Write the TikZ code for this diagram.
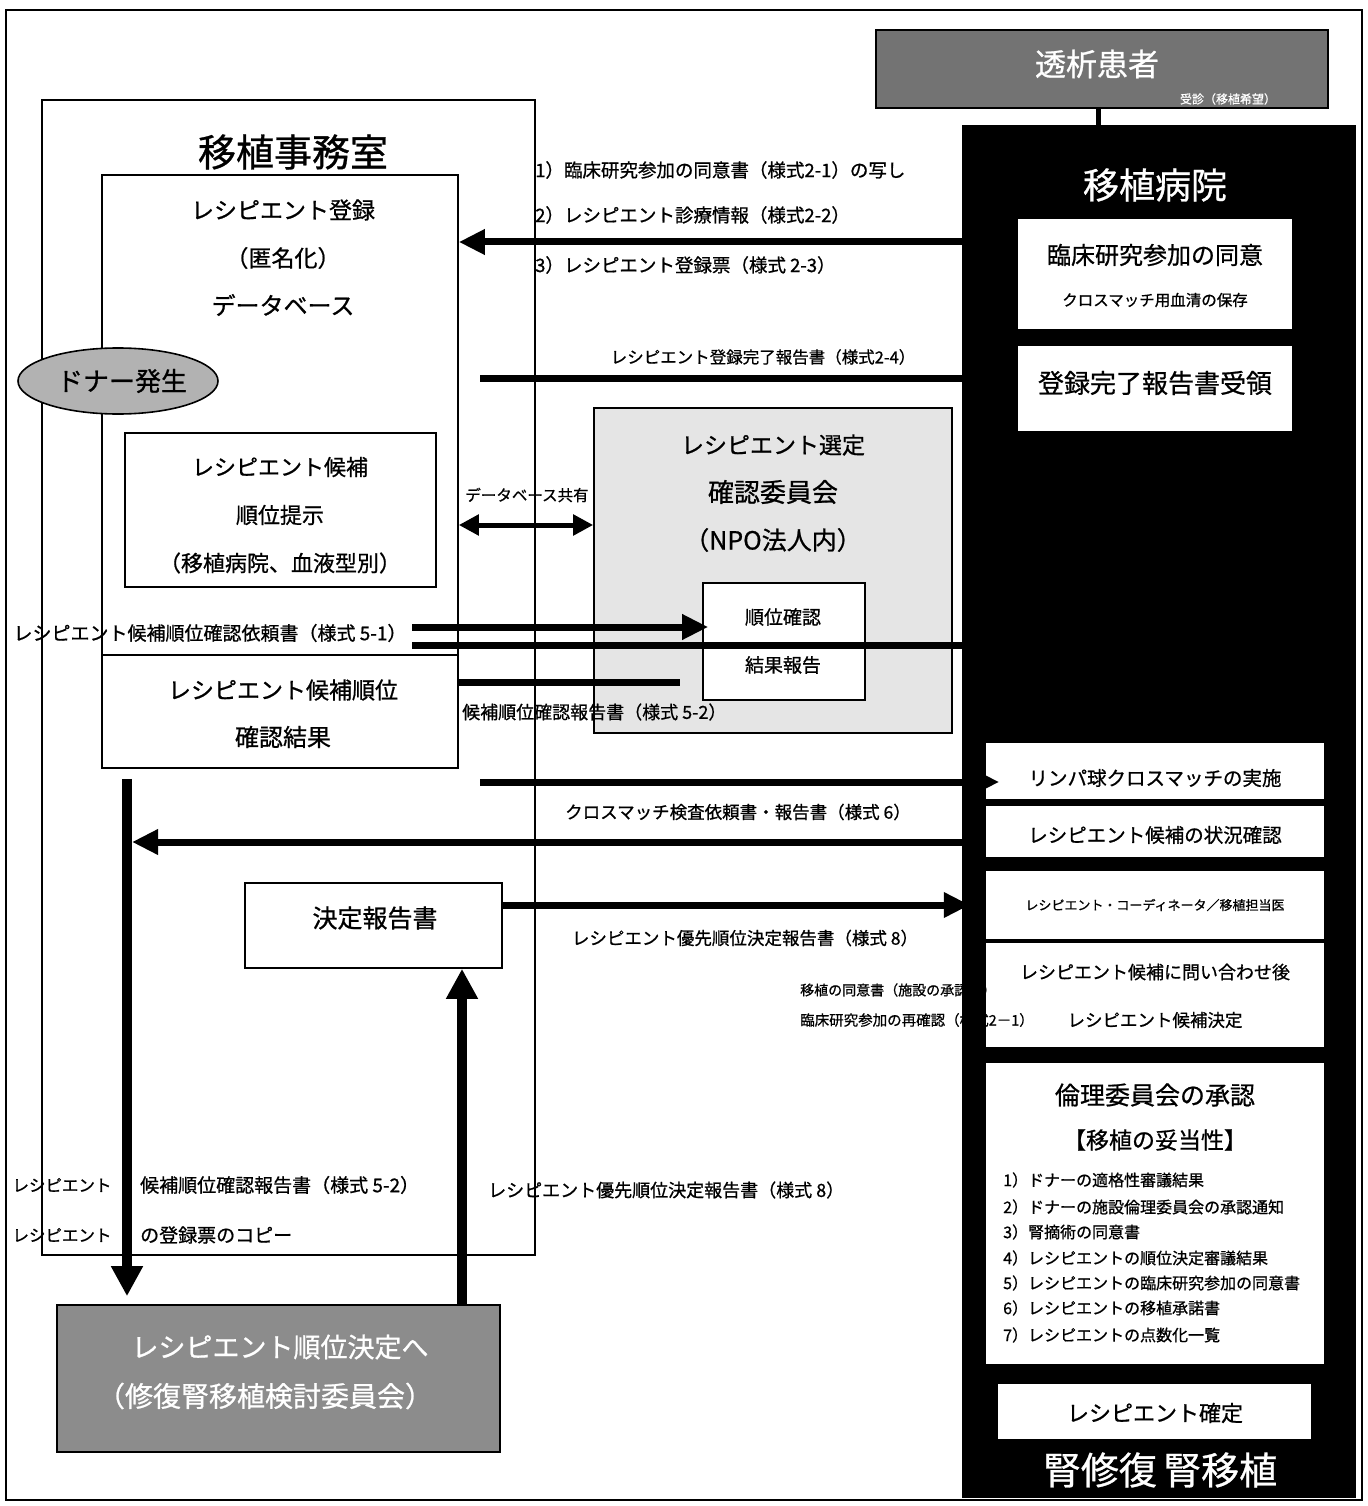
\documentclass[tikz,border=0pt]{standalone}
\usepackage{fontspec}
\setmainfont{Noto Sans CJK JP}[FakeBold=0.8]
\usetikzlibrary{arrows.meta,shapes.geometric}
\newcommand\fsz[1]{\fontsize{#1pt}{#1pt}\selectfont}
\tikzset{
  box/.style={draw, line width=1.6pt, inner sep=0pt},
  wbox/.style={box, fill=white},
  txt/.style={inner sep=0pt},
  bigarrow/.style={line width=7pt, -{Triangle[length=26pt,width=24pt]}},
  bigline/.style={line width=7pt},
  dblarrow/.style={line width=5pt, {Triangle[length=20pt,width=20pt]}-{Triangle[length=20pt,width=20pt]}},
  vertarrow/.style={line width=10pt, -{Triangle[length=30pt,width=30pt]}},
}
\begin{document}
\begin{tikzpicture}[x=1pt,y=-1pt]
\useasboundingbox (0,0) rectangle (1367,1506);
\fill[white] (0,0) rectangle (1367,1506);
\draw[line width=1.5pt] (6,10) rectangle (1362,1500);

% y levels
\coordinate (y242) at (0,242);
\coordinate (y378) at (0,378);
\coordinate (y525) at (0,525);
\coordinate (y627) at (0,627);
\coordinate (y645) at (0,645);
\coordinate (y655) at (0,655);
\coordinate (y682) at (0,682);
\coordinate (y782) at (0,782);
\coordinate (y842) at (0,842);
\coordinate (y905) at (0,905);
\coordinate (x127) at (127,0);
\coordinate (x462) at (462,0);

% ---------- 移植事務室 ----------
\node[box, line width=1.4pt, minimum width=493pt, minimum height=1155pt] (office) at (288.5,677.5) {};
\node[txt, font=\fsz{38}] (tOffice) at (293,152) {移植事務室};
\node[box, minimum width=356pt, minimum height=593pt] (reg) at (280,471.5) {};
\draw[line width=1.6pt] (reg.west |- y655) -- (reg.east |- y655);
\node[txt, font=\fsz{23}] (tReg1) at (283,210) {レシピエント登録};
\node[txt, font=\fsz{23}] (tReg2) at (283,258) {（匿名化）};
\node[txt, font=\fsz{24}] (tReg3) at (283,305) {データベース};
\node[txt, font=\fsz{23}] (tRes1) at (283,690) {レシピエント候補順位};
\node[txt, font=\fsz{24}] (tRes2) at (283,737) {確認結果};

\node[box, minimum width=311pt, minimum height=154pt] (cand) at (280.5,510) {};
\node[txt, font=\fsz{22}] (tCand1) at (280,467) {レシピエント候補};
\node[txt, font=\fsz{22}] (tCand2) at (280,515) {順位提示};
\node[txt, font=\fsz{22}] (tCand3) at (280,563) {（移植病院、血液型別）};

\node[draw, line width=1.6pt, ellipse, fill=black!30, minimum width=200pt, minimum height=66pt, inner sep=0pt] (donor) at (118,381) {};
\node[txt, font=\fsz{26}] (tDonor) at (122,381) {ドナー発生};

% ---------- 委員会 ----------
\node[box, fill=black!10, minimum width=358pt, minimum height=325pt] (comm) at (773,570.5) {};
\node[txt, font=\fsz{23}] (tComm1) at (773,445) {レシピエント選定};
\node[txt, font=\fsz{26}] (tComm2) at (773,492) {確認委員会};
\node[txt, font=\fsz{25}] (tComm3) at (773,540) {（NPO法人内）};
\node[wbox, minimum width=162pt, minimum height=117pt] (rank) at (784,641.5) {};
\node[txt, font=\fsz{19}] (tRank1) at (783,617) {順位確認};
\node[txt, font=\fsz{19}] (tRank2) at (783,665) {結果報告};

% ---------- 決定報告書 / 下の委員会 ----------
\node[box, minimum width=257pt, minimum height=85pt] (decision) at (373.5,925.5) {};
\node[txt, font=\fsz{25}] (tDecision) at (375,918) {決定報告書};
\node[box, fill=black!45, minimum width=443pt, minimum height=147pt] (bottom) at (278.5,1378.5) {};
\node[txt, font=\fsz{27}, text=white] (tBottom1) at (280,1347) {レシピエント順位決定へ};
\node[txt, font=\fsz{28}, text=white] (tBottom2) at (265,1396) {（修復腎移植検討委員会）};

% ---------- 移植病院 column ----------
\node[draw, fill=black, minimum width=393pt, minimum height=1372pt, inner sep=0pt] (col) at (1158.5,811) {};
\node[txt, font=\fsz{36}, text=white] (tCol) at (1155,185) {移植病院};
\node[txt, font=\fsz{38}, text=white] (tColB) at (1160,1470) {腎修復\,腎移植};

\node[box, fill=black!55, minimum width=452pt, minimum height=78pt] (patient) at (1102,69) {};
\node[txt, font=\fsz{31}, text=white] (tPatient) at (1097,64) {透析患者};
\node[txt, font=\fsz{12}, text=white] (tPatient2) at (1228,99) {受診（移植希望）};
\draw[line width=5pt] ([xshift=-4pt]patient.south) -- ([xshift=-4pt]patient.south |- col.north);

\node[wbox, minimum width=276pt, minimum height=112pt] (consent) at (1155,274) {};
\node[txt, font=\fsz{24}] (tConsent1) at (1155,255) {臨床研究参加の同意};
\node[txt, font=\fsz{15.5}] (tConsent2) at (1155,300) {クロスマッチ用血清の保存};
\node[wbox, minimum width=276pt, minimum height=87pt] (regdone) at (1155,388.5) {};
\node[txt, font=\fsz{26}] (tRegdone) at (1155,383) {登録完了報告書受領};
\node[wbox, minimum width=340pt, minimum height=58pt] (lymph) at (1155,771) {};
\node[txt, font=\fsz{19.5}] (tLymph) at (1155,778) {リンパ球クロスマッチの実施};
\node[wbox, minimum width=340pt, minimum height=53pt] (status) at (1155,831.5) {};
\node[txt, font=\fsz{19.5}] (tStatus) at (1155,835) {レシピエント候補の状況確認};
\node[wbox, minimum width=340pt, minimum height=70pt] (coord) at (1155,905) {};
\node[txt, font=\fsz{13}] (tCoord) at (1155,905) {レシピエント・コーディネータ／移植担当医};
\node[wbox, minimum width=340pt, minimum height=106pt] (inquiry) at (1155,995) {};
\node[txt, font=\fsz{18}] (tInq1) at (1155,972) {レシピエント候補に問い合わせ後};
\node[txt, font=\fsz{17.5}] (tInq2) at (1155,1020) {レシピエント候補決定};
\node[wbox, minimum width=340pt, minimum height=303pt] (ethics) at (1155,1213.5) {};
\node[txt, font=\fsz{25}] (tEth1) at (1155,1095) {倫理委員会の承認};
\node[txt, font=\fsz{23}] (tEth2) at (1155,1140) {【移植の妥当性】};
\node[txt, font=\fsz{16}, anchor=west] (e1) at (1003,1180) {1）ドナーの適格性審議結果};
\node[txt, font=\fsz{16}, anchor=west] (e2) at (1003,1207) {2）ドナーの施設倫理委員会の承認通知};
\node[txt, font=\fsz{16}, anchor=west] (e3) at (1003,1232) {3）腎摘術の同意書};
\node[txt, font=\fsz{16}, anchor=west] (e4) at (1003,1258) {4）レシピエントの順位決定審議結果};
\node[txt, font=\fsz{16}, anchor=west] (e5) at (1003,1283) {5）レシピエントの臨床研究参加の同意書};
\node[txt, font=\fsz{16}, anchor=west] (e6) at (1003,1308) {6）レシピエントの移植承諾書};
\node[txt, font=\fsz{16}, anchor=west] (e7) at (1003,1335) {7）レシピエントの点数化一覧};
\node[wbox, minimum width=315pt, minimum height=57pt] (confirm) at (1154.5,1411.5) {};
\node[txt, font=\fsz{22}] (tConfirm) at (1155,1413) {レシピエント確定};

% ---------- labels ----------
\node[txt, font=\fsz{18.5}, anchor=west] (L1) at (535,170) {1）臨床研究参加の同意書（様式2-1）の写し};
\node[txt, font=\fsz{18.5}, anchor=west] (L2) at (535,215) {2）レシピエント診療情報（様式2-2）};
\node[txt, font=\fsz{18.5}, anchor=west] (L3) at (535,265) {3）レシピエント登録票（様式 2-3）};
\node[txt, font=\fsz{16.5}] (L4) at (763,357) {レシピエント登録完了報告書（様式2-4）};
\node[txt, font=\fsz{15.5}] (L5) at (527,495) {データベース共有};
\node[txt, font=\fsz{19}] (L6) at (210,633) {レシピエント候補順位確認依頼書（様式 5-1）};
\node[txt, font=\fsz{18}, anchor=west] (L7) at (462,712) {候補順位確認報告書（様式 5-2）};
\node[txt, font=\fsz{17.5}] (L8) at (738,812) {クロスマッチ検査依頼書・報告書（様式 6）};
\node[txt, font=\fsz{17.5}] (L9) at (745,938) {レシピエント優先順位決定報告書（様式 8）};
\node[txt, font=\fsz{14}, anchor=west] (L10) at (800,990) {移植の同意書（施設の承認書）};
\node[txt, font=\fsz{14.5}, anchor=west] (L11) at (800,1020) {臨床研究参加の再確認（様式2－1）};
\node[txt, font=\fsz{16.5}] (L12) at (62,1185) {レシピエント};
\node[txt, font=\fsz{19}, anchor=west] (L13) at (140,1185) {候補順位確認報告書（様式 5-2）};
\node[txt, font=\fsz{16.5}] (L14) at (62,1235) {レシピエント};
\node[txt, font=\fsz{19}, anchor=west] (L15) at (140,1235) {の登録票のコピー};
\node[txt, font=\fsz{18}, anchor=west] (L16) at (488,1190) {レシピエント優先順位決定報告書（様式 8）};

% ---------- connectors ----------
\coordinate (a2s) at (480,378);
\coordinate (a4s) at (412,627);
\coordinate (a5s) at (412,645);
\coordinate (a6e) at (680,682);
\coordinate (a7s) at (480,782);
\coordinate (a8e) at (132,842);

\draw[bigarrow] (consent.west |- y242) -- (reg.east |- y242);
\draw[bigarrow] (a2s) -- (regdone.west |- y378);
\draw[dblarrow] (reg.east |- y525) -- (comm.west |- y525);
\draw[bigarrow] (a4s) -- ([xshift=6pt]rank.west |- y627);
\draw[bigline] (a5s) -- (col.west |- y645);
\draw[bigline] (reg.east |- y682) -- (a6e);
\draw[bigarrow] (a7s) -- ([xshift=15pt]lymph.west |- y782);
\draw[bigarrow] (status.west |- y842) -- (a8e);
\draw[bigarrow] (decision.east |- y905) -- ([xshift=8pt]col.west |- y905);
\draw[vertarrow] ([yshift=-10pt]reg.south -| x127) -- ([yshift=8pt]bottom.north -| x127);
\draw[vertarrow] (bottom.north -| x462) -- (decision.south -| x462);
\end{tikzpicture}
\end{document}
